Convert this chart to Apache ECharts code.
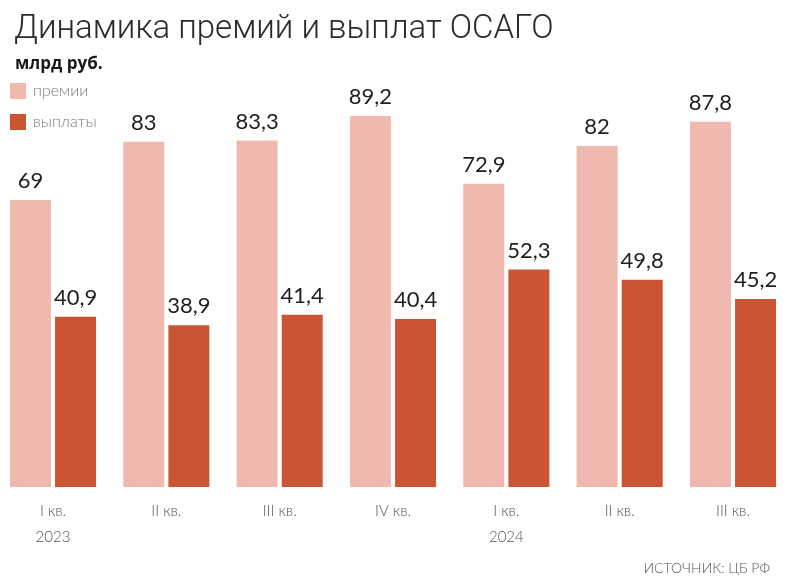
<!DOCTYPE html>
<html><head><meta charset="utf-8">
<script src="https://cdn.jsdelivr.net/npm/echarts@6/dist/echarts.min.js"></script>
<style>html,body{margin:0;padding:0;background:#fff}#c{width:789px;height:582px}</style>
</head><body><div id="c"></div>
<script>
const categories = ['I кв.\n2023', 'II кв.', 'III кв.', 'IV кв.', 'I кв.\n2024', 'II кв.', 'III кв.'];
const premiums = [69, 83, 83.3, 89.2, 72.9, 82, 87.8];
const payouts = [40.9, 38.9, 41.4, 40.4, 52.3, 49.8, 45.2];
const seriesNames = ['премии', 'выплаты'];

const chart = echarts.init(document.getElementById('c'));
const fmt = p => String(p.value).replace('.', ',');
const labelStyle = {show: true, position: 'top', distance: 8, formatter: fmt,
  fontFamily: 'Lato', fontSize: 22, color: '#1e1e1e'};
chart.setOption({
  animation: false,
  title: [
    {text: 'Динамика премий и выплат ОСАГО', left: 9, top: 8,
     textStyle: {fontFamily: 'Roboto', fontWeight: 300, fontSize: 33, color: '#2a2a2a'}},
    {text: 'млрд руб.', left: 10, top: 51,
     textStyle: {fontFamily: 'Open Sans', fontWeight: 'bold', fontSize: 17, color: '#1a1a1a'}},
    {text: 'ИСТОЧНИК: ЦБ РФ', right: 14, top: 556,
     textStyle: {fontFamily: 'Lato', fontWeight: 300, fontSize: 14, color: '#555'}}
  ],
  legend: {orient: 'vertical', left: 5, top: 78, itemWidth: 16, itemHeight: 16, itemGap: 15,
    icon: 'rect', data: seriesNames,
    textStyle: {fontFamily: 'Lato', fontWeight: 300, fontSize: 16, color: '#777', padding: [0,0,0,2]}},
  grid: {left: 53, right: 56, top: 71, bottom: 95, containLabel: false},
  xAxis: {type: 'category', data: categories, boundaryGap: false,
    axisLine: {show: false}, axisTick: {show: false},
    axisLabel: {margin: 11, lineHeight: 26, fontFamily: 'Lato', fontWeight: 300, fontSize: 15, color: '#555'}},
  yAxis: {type: 'value', min: 0, max: 100, show: false, splitLine: {show: false}},
  series: [
    {name: seriesNames[0], type: 'bar', data: premiums, barWidth: 41, barGap: '10%',
     itemStyle: {color: '#F0B9B0'}, label: labelStyle},
    {name: seriesNames[1], type: 'bar', data: payouts, barWidth: 41,
     itemStyle: {color: '#CA5532'}, label: labelStyle}
  ]
});
</script></body></html>
